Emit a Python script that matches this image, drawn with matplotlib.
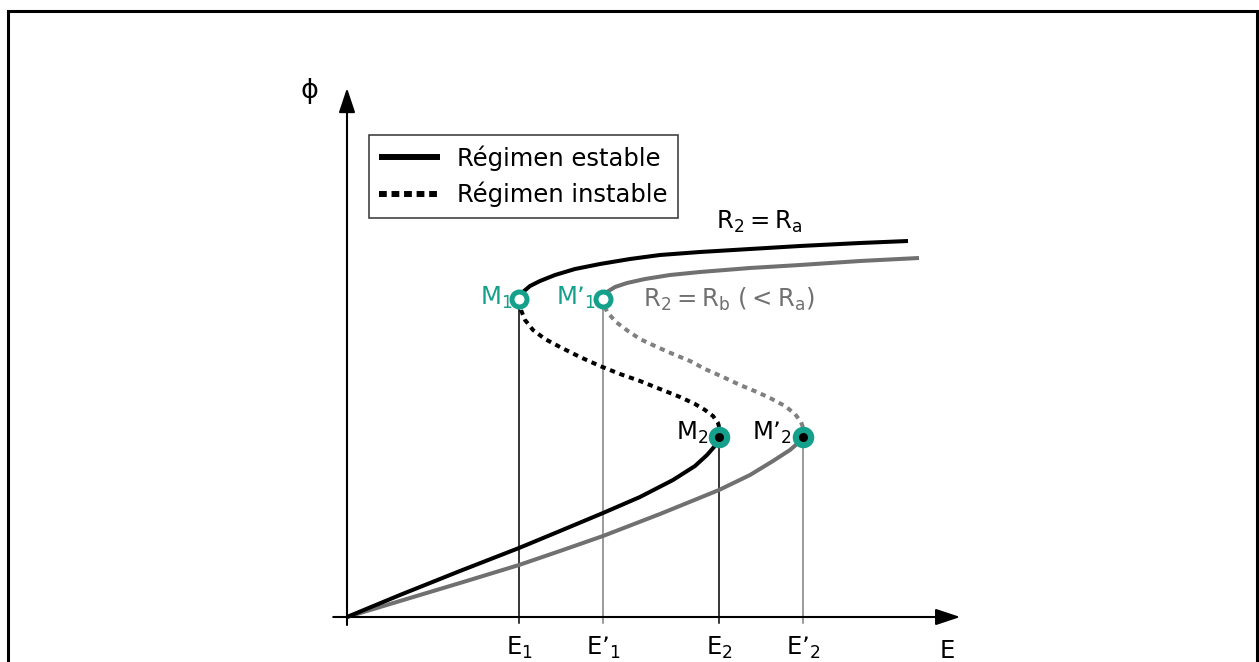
import matplotlib
matplotlib.use("Agg")
import matplotlib.pyplot as plt
from matplotlib.lines import Line2D
from matplotlib.patches import Rectangle

plt.rcParams['font.family'] = ['DejaVu Sans']
plt.rcParams['mathtext.default'] = 'regular'

# ---------------- data (E, phi) ----------------
E_ticks = [2.87, 4.27, 6.20, 7.60]
E_tick_labels = [r'$\mathregular{E_1}$', r'$\mathregular{E’_1}$',
                 r'$\mathregular{E_2}$', r'$\mathregular{E’_2}$']
phi_M1 = 6.36
phi_M2 = 3.60

# Curve R2 = Ra (black)
a_low_E = [0.0, 0.883, 1.883, 2.867, 3.55, 4.267, 4.883, 5.433, 5.8, 6.0, 6.117, 6.2]
a_low_phi = [0.0, 0.44, 0.92, 1.38, 1.72, 2.08, 2.40, 2.74, 3.02, 3.24, 3.40, 3.60]
a_mid_E = [6.2, 6.217, 6.183, 6.1, 5.967, 5.8, 5.55, 5.217, 4.883, 4.55, 4.217,
           3.883, 3.55, 3.3, 3.1, 2.967, 2.9, 2.867]
a_mid_phi = [3.60, 3.74, 3.88, 4.02, 4.14, 4.26, 4.40, 4.56, 4.72, 4.86, 5.02,
             5.20, 5.40, 5.56, 5.74, 5.94, 6.14, 6.36]
a_up_E = [2.867, 2.933, 3.05, 3.217, 3.467, 3.8, 4.217, 4.717, 5.217, 5.883,
          6.717, 7.55, 8.55, 9.35]
a_up_phi = [6.36, 6.50, 6.62, 6.72, 6.84, 6.96, 7.06, 7.16, 7.24, 7.30,
            7.36, 7.42, 7.48, 7.52]

# Curve R2 = Rb (gray)
b_low_E = [0.0, 0.883, 1.883, 2.867, 3.55, 4.267, 5.217, 6.2, 6.717, 7.1,
           7.383, 7.517, 7.6]
b_low_phi = [0.0, 0.32, 0.68, 1.04, 1.32, 1.62, 2.06, 2.54, 2.84, 3.12,
             3.34, 3.48, 3.60]
b_mid_E = [7.6, 7.617, 7.567, 7.467, 7.3, 7.05, 6.833, 6.55, 6.267, 5.967,
           5.717, 5.433, 5.167, 4.883, 4.683, 4.483, 4.35, 4.283, 4.267]
b_mid_phi = [3.60, 3.74, 3.90, 4.06, 4.22, 4.38, 4.50, 4.64, 4.80, 4.96,
             5.12, 5.26, 5.40, 5.56, 5.72, 5.90, 6.08, 6.22, 6.36]
b_up_E = [4.267, 4.333, 4.467, 4.667, 4.967, 5.383, 5.883, 6.717, 7.55, 8.55, 9.533]
b_up_phi = [6.36, 6.50, 6.60, 6.68, 6.76, 6.84, 6.90, 6.98, 7.04, 7.12, 7.18]

legend_labels = ['Régimen estable', 'Régimen instable']

# ---------------- styling ----------------
TEAL = '#14a08a'
GRAY = '#707070'
FS = 17.5

fig = plt.figure(figsize=(12.59, 6.62), dpi=100)
ax = fig.add_axes([0, 0, 1, 1])
ax.set_xlim(-347 / 60, (1259 - 347) / 60)
ax.set_ylim((617 - 662) / 50, 617 / 50)
ax.axis('off')

# outer frame
fig.add_artist(Rectangle((7.5 / 1259, -0.02), 1249 / 1259, (662 - 10.5) / 662 + 0.02,
                         transform=fig.transFigure, fill=False, lw=2.2,
                         ec='black', clip_on=False))

# axes with arrows
E_min, E_max = -0.23, 10.22
phi_min, phi_max = -0.16, 10.58
arrow = dict(arrowstyle='-|>,head_length=0.75,head_width=0.25', lw=1.5,
             color='black', shrinkA=0, shrinkB=0, mutation_scale=20)
ax.annotate('', xy=(E_max, 0), xytext=(E_min, 0), arrowprops=arrow)
ax.annotate('', xy=(0, phi_max), xytext=(0, phi_min), arrowprops=arrow)
ax.annotate('E', xy=(E_max, 0), xytext=(-9, -16), textcoords='offset points',
            ha='center', va='top', fontsize=FS)
ax.annotate('ϕ', xy=(0, phi_max), xytext=(-27, -2), textcoords='offset points',
            ha='center', va='center', fontsize=FS + 2)

# vertical guide lines
vcols = ['black', '#808080', 'black', '#808080']
vphi = [phi_M1, phi_M1, phi_M2, phi_M2]
for e, top, c, lab in zip(E_ticks, vphi, vcols, E_tick_labels):
    ax.plot([e, e], [phi_min * 0.8, top], color=c, lw=1.1, zorder=1)
    ax.annotate(lab, xy=(e, 0), xytext=(0, -13), textcoords='offset points',
                ha='center', va='top', fontsize=FS)

# curves
LW = 2.9
dots = (0, (1.3, 1.2))
common = dict(solid_capstyle='butt', solid_joinstyle='round')
ax.plot(b_low_E, b_low_phi, color=GRAY, lw=LW, zorder=2, **common)
ax.plot(b_mid_E, b_mid_phi, color='#808080', lw=LW, linestyle=dots,
        dash_capstyle='butt', zorder=2)
ax.plot(b_up_E, b_up_phi, color=GRAY, lw=LW, zorder=2, **common)
ax.plot(a_low_E, a_low_phi, color='black', lw=LW, zorder=3, **common)
ax.plot(a_mid_E, a_mid_phi, color='black', lw=LW, linestyle=dots,
        dash_capstyle='butt', zorder=3)
ax.plot(a_up_E, a_up_phi, color='black', lw=LW, zorder=3, **common)

# markers
ax.plot(E_ticks[:2], [phi_M1] * 2, 'o', ms=10.8, mfc='white', mec=TEAL, mew=3.6,
        zorder=5, linestyle='none')
ax.plot(E_ticks[2:], [phi_M2] * 2, 'o', ms=15.5, mfc=TEAL, mec='none',
        zorder=5, linestyle='none')
ax.plot(E_ticks[2:], [phi_M2] * 2, 'o', ms=6.5, mfc='black', mec='none',
        zorder=6, linestyle='none')

# point labels
ax.annotate(r'$\mathregular{M_1}$', xy=(E_ticks[0], phi_M1), xytext=(-5, 1),
            textcoords='offset points', ha='right', va='center', fontsize=FS,
            color=TEAL)
ax.annotate(r'$\mathregular{M’_1}$', xy=(E_ticks[1], phi_M1), xytext=(-5, 1),
            textcoords='offset points', ha='right', va='center', fontsize=FS,
            color=TEAL)
ax.annotate(r'$\mathregular{M_2}$', xy=(E_ticks[2], phi_M2), xytext=(-8, 3),
            textcoords='offset points', ha='right', va='center', fontsize=FS,
            color='black')
ax.annotate(r'$\mathregular{M’_2}$', xy=(E_ticks[3], phi_M2), xytext=(-8, 3),
            textcoords='offset points', ha='right', va='center', fontsize=FS,
            color='black')

# curve labels
ax.annotate(r'$\mathregular{R_2 = R_a}$', xy=(a_up_E[-1], a_up_phi[-1]),
            xytext=(-138, 4), textcoords='offset points', ha='left',
            va='bottom', fontsize=FS, color='black')
ax.annotate(r'$\mathregular{R_2 = R_b\ (< R_a)}$', xy=(E_ticks[1], phi_M1),
            xytext=(29, 0), textcoords='offset points', ha='left',
            va='center', fontsize=FS, color=GRAY)

# legend
handles = [Line2D([], [], color='black', lw=4.3, solid_capstyle='butt'),
           Line2D([], [], color='black', lw=4.3, linestyle=(0, (1.3, 0.8)),
                  dash_capstyle='butt')]
leg = ax.legend(handles, legend_labels, loc='upper left',
                bbox_to_anchor=(369 / 1259, 1 - 135 / 662),
                bbox_transform=fig.transFigure, borderaxespad=0,
                fontsize=FS, frameon=True, fancybox=False, handlelength=2.5,
                handletextpad=0.7, borderpad=0.42, labelspacing=0.46)
leg.get_frame().set_edgecolor('black')
leg.get_frame().set_linewidth(1.1)

fig.savefig('out.png', dpi=100)
